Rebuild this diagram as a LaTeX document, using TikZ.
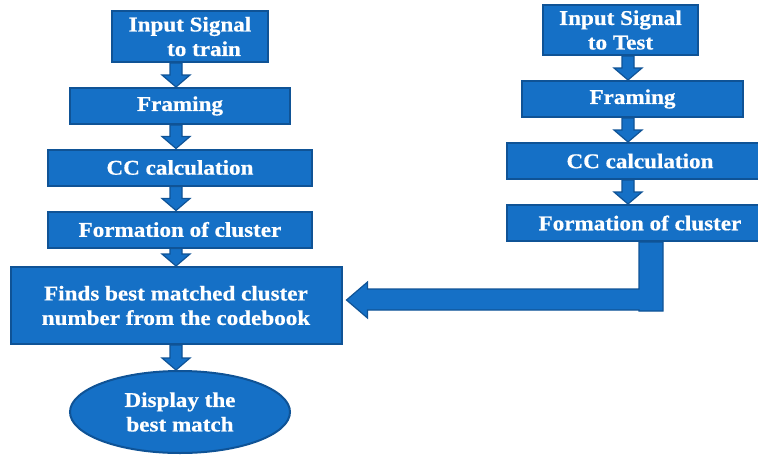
\documentclass[tikz,border=0pt]{standalone}
\usepackage{fontspec}
\setmainfont{Liberation Serif}[FakeStretch=1.1, BoldFeatures={FakeBold=0.6}]
\usetikzlibrary{calc,shapes.geometric}

\definecolor{boxfill}{HTML}{1570C6}
\definecolor{boxline}{HTML}{0F5396}

\newcommand\labelfont{\fontsize{21}{24.5}\selectfont\bfseries}

\tikzset{
  stagebox/.style={rectangle, draw=boxline, fill=boxfill, line width=2pt,
    text=white, align=center, inner sep=0pt, font=\labelfont},
  endoval/.style={ellipse, draw=boxline, fill=boxfill, line width=2pt,
    text=white, align=center, inner sep=0pt, font=\labelfont},
  blockarrow/.style={draw=boxline, fill=boxfill, line width=1.2pt, line join=miter}
}

% block arrow pointing down from one node to the next, on a given column
\newcommand\flowdown[3]{%
  \path let \p1=(#1.south -| #3), \p2=(#2.north -| #3) in
    [blockarrow] (\x1-6pt,\y1) -- (\x1+6pt,\y1) -- (\x1+6pt,\y2+12pt)
    -- (\x1+14pt,\y2+12pt) -- (\x1,\y2) -- (\x1-14pt,\y2+12pt)
    -- (\x1-6pt,\y2+12pt) -- cycle;}

\begin{document}
\begin{tikzpicture}[x=1pt, y=-1pt]
  \useasboundingbox (0,0) rectangle (758,456);
  \clip (0,0) rectangle (758,456);

  % columns used by the down arrows
  \coordinate (colL) at (176,0);
  \coordinate (colR) at (628,0);
  \coordinate (barx) at (651,0);

  % training branch
  \node[stagebox, minimum width=156pt, minimum height=51pt] (tin) at (190,36.5)
    {Input Signal\\\hspace*{28pt}to train};
  \node[stagebox, minimum width=220pt, minimum height=36pt] (fr1) at (180,106) {Framing};
  \node[stagebox, minimum width=264pt, minimum height=36pt] (cc1) at (180,167.5) {CC calculation};
  \node[stagebox, minimum width=264pt, minimum height=36pt] (fc1) at (180,229.5) {Formation of cluster};
  \node[stagebox, minimum width=331pt, minimum height=77pt] (find) at (176,305.5)
    {Finds best matched cluster\\number from the codebook};
  \node[endoval, minimum width=220pt, minimum height=82pt] (disp) at (180,412)
    {Display the\\best match};

  % testing branch
  \node[stagebox, minimum width=155pt, minimum height=50pt] (tst) at (620.5,30)
    {Input Signal\\to Test};
  \node[stagebox, minimum width=221pt, minimum height=36pt] (fr2) at (632.5,99) {Framing};
  \node[stagebox, minimum width=266pt, minimum height=36pt] (cc2) at (640,161) {CC calculation};
  \node[stagebox, minimum width=266pt, minimum height=36pt] (fc2) at (640,223) {Formation of cluster};

  % down arrows
  \flowdown{tin}{fr1}{colL}
  \flowdown{fr1}{cc1}{colL}
  \flowdown{cc1}{fc1}{colL}
  \flowdown{fc1}{find}{colL}
  \flowdown{find}{disp}{colL}
  \flowdown{tst}{fr2}{colR}
  \flowdown{fr2}{cc2}{colR}
  \flowdown{cc2}{fc2}{colR}

  % elbow connector from the test cluster back to the matcher
  \path let \p1=(fc2.south -| barx), \p2=(find.east) in
    [blockarrow] (\x1-12pt,\y1) -- (\x1+12pt,\y1) -- (\x1+12pt,-311pt)
    -- (\x1-12pt,-311pt) -- (\x1-12pt,-310pt) -- (\x2+25pt,-310pt)
    -- (\x2+25pt,-318pt) -- (\x2+4pt,-300pt) -- (\x2+25pt,-282pt)
    -- (\x2+25pt,-289pt) -- (\x1-12pt,-289pt) -- cycle;
\end{tikzpicture}
\end{document}
